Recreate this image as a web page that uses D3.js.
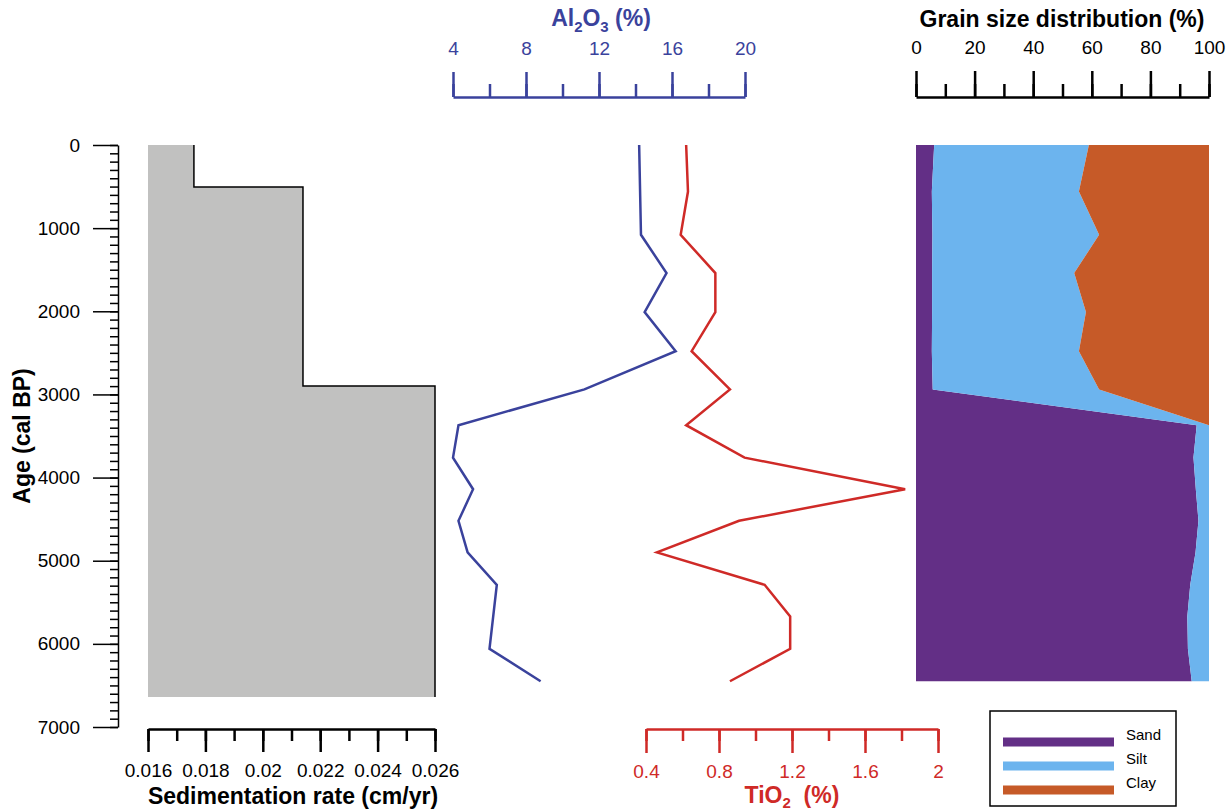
<!DOCTYPE html>
<html>
<head>
<meta charset="utf-8">
<script src="https://cdn.jsdelivr.net/npm/d3@7"></script>
<style>
  body { margin: 0; background: #fff; }
  svg text { font-family: "Liberation Sans", Arial, sans-serif; }
</style>
</head>
<body>
<div id="chart"></div>
<script>
// ages (cal BP) of the samples
const ages = [0, 560, 1080, 1540, 2010, 2480, 2940, 3370, 3760, 4140, 4520, 4900, 5290, 5670, 6060, 6450];
const alAges = [0, 1080, 1540, 2010, 2480, 2940, 3370, 3760, 4140, 4520, 4900, 5290, 6060, 6450];
const al2o3 = [14.2, 14.3, 15.7, 14.5, 16.2, 11.2, 4.3, 4.0, 5.1, 4.3, 4.8, 6.4, 6.0, 8.8];
const tio2 = [0.62, 0.63, 0.59, 0.78, 0.78, 0.65, 0.86, 0.62, 0.94, 1.82, 0.91, 0.46, 1.05, 1.19, 1.19, 0.86];
const sand = [6.2, 5.4, 5.6, 5.5, 5.5, 5.4, 5.7, 95.8, 94.7, 95.5, 96.4, 95.4, 93.6, 92.6, 92.8, 94.1];
const silt = [52.8, 50.2, 56.9, 48.5, 52.5, 50.2, 56.8, 4.2, 5.3, 4.5, 3.6, 4.6, 6.4, 7.4, 7.2, 5.9];
const clay = [41.0, 44.4, 37.5, 46.0, 42.0, 44.4, 37.5, 0, 0, 0, 0, 0, 0, 0, 0, 0];

// sedimentation rate, constant between breakpoints
const sedAges = [0, 505, 2900, 6640];
const sedRates = [0.0176, 0.0214, 0.026];

const ageTicks = [0, 1000, 2000, 3000, 4000, 5000, 6000, 7000];
const sedTicks = [0.016, 0.018, 0.02, 0.022, 0.024, 0.026];
const alTicks = [4, 8, 12, 16, 20];
const tiTicks = [0.4, 0.8, 1.2, 1.6, 2];
const grainTicks = [0, 20, 40, 60, 80, 100];
const grainKeys = ["Sand", "Silt", "Clay"];

const blue = "#3a429c", red = "#cf2a27";
const grainColor = { Sand: "#632f86", Silt: "#6cb4ee", Clay: "#c65a28" };
const titleSize = 23;

const svg = d3.select("#chart").append("svg")
  .attr("width", 1231)
  .attr("height", 811);

const y = d3.scaleLinear().domain([0, 7000]).range([145, 727]);
const xSed = d3.scaleLinear().domain([0.016, 0.026]).range([148, 435]);
const xAl = d3.scaleLinear().domain([4, 20]).range([453, 745]);
const xTi = d3.scaleLinear().domain([0.4, 2]).range([646, 938]);
const xGrain = d3.scaleLinear().domain([0, 100]).range([916, 1209]);

// helper: major + minor ticks on one axis
function drawAxis(axisFn, scale, pos, major, minor, opts) {
  const g = svg.append("g").attr("transform", pos);
  g.append("g")
    .call(axisFn(scale).tickValues(minor).tickSize(opts.minor).tickFormat(""))
    .call(a => a.select(".domain").remove());
  g.append("g")
    .call(axisFn(scale).tickValues(major).tickSize(opts.major).tickSizeOuter(0)
      .tickPadding(opts.pad).tickFormat(opts.fmt || (d => d)));
  g.selectAll("line, path").attr("stroke", opts.color).attr("stroke-width", opts.width);
  g.selectAll("text").attr("fill", opts.color).attr("font-size", 19)
    .attr("font-family", "Liberation Sans, Arial, sans-serif");
  return g;
}

// age axis
drawAxis(d3.axisLeft, y, "translate(118,0)", ageTicks, d3.range(0, 7001, 100),
  { major: 25, minor: 8, pad: 13, color: "#000", width: 1.5 });

svg.append("text")
  .attr("transform", "translate(30,436) rotate(-90)")
  .attr("text-anchor", "middle")
  .attr("font-size", titleSize).attr("font-weight", "bold")
  .text("Age (cal BP)");

// sedimentation rate
const sedPts = [];
sedRates.forEach((r, i) => {
  sedPts.push({ age: sedAges[i], rate: r });
  sedPts.push({ age: sedAges[i + 1], rate: r });
});

svg.append("path")
  .datum(sedPts)
  .attr("fill", "#c1c1c0")
  .attr("d", d3.area().x0(xSed(0.016)).x1(d => xSed(d.rate)).y(d => y(d.age)));

svg.append("path")
  .datum(sedPts)
  .attr("fill", "none")
  .attr("stroke", "#000")
  .attr("stroke-width", 1.5)
  .attr("d", d3.line().x(d => xSed(d.rate)).y(d => y(d.age)));

drawAxis(d3.axisBottom, xSed, "translate(0,729)", sedTicks, d3.range(0.016, 0.0261, 0.001),
  { major: 23, minor: 12, pad: 12, color: "#000", width: 2.5 });

svg.append("text")
  .attr("x", 293).attr("y", 804)
  .attr("text-anchor", "middle")
  .attr("font-size", titleSize).attr("font-weight", "bold")
  .text("Sedimentation rate (cm/yr)");

// Al2O3
svg.append("path")
  .datum(al2o3)
  .attr("fill", "none")
  .attr("stroke", blue)
  .attr("stroke-width", 2.5)
  .attr("d", d3.line().x(d => xAl(d)).y((d, i) => y(alAges[i])));

drawAxis(d3.axisTop, xAl, "translate(0,97)", alTicks, d3.range(4, 20.1, 2),
  { major: 25, minor: 13, pad: 17, color: blue, width: 2.5 });

const alTitle = svg.append("text")
  .attr("x", 601).attr("y", 26)
  .attr("text-anchor", "middle")
  .attr("font-size", titleSize).attr("font-weight", "bold")
  .attr("fill", blue);
alTitle.append("tspan").text("Al");
alTitle.append("tspan").attr("font-size", 15).attr("dy", 6).text("2");
alTitle.append("tspan").attr("dy", -6).text("O");
alTitle.append("tspan").attr("font-size", 15).attr("dy", 6).text("3");
alTitle.append("tspan").attr("dy", -6).text(" (%)");

// TiO2
svg.append("path")
  .datum(tio2)
  .attr("fill", "none")
  .attr("stroke", red)
  .attr("stroke-width", 2.5)
  .attr("d", d3.line().x(d => xTi(d)).y((d, i) => y(ages[i])));

drawAxis(d3.axisBottom, xTi, "translate(0,729)", tiTicks, d3.range(0.4, 2.01, 0.2),
  { major: 24, minor: 12, pad: 12, color: red, width: 2.5 });

const tiTitle = svg.append("text")
  .attr("x", 792).attr("y", 803)
  .attr("text-anchor", "middle")
  .attr("font-size", titleSize).attr("font-weight", "bold")
  .attr("fill", red);
tiTitle.append("tspan").text("TiO");
tiTitle.append("tspan").attr("font-size", 15).attr("dy", 5).text("2");
tiTitle.append("tspan").attr("dy", -5).text("\u00a0 (%)");

// grain size, stacked
const grainRows = ages.map((a, i) => ({ age: a, Sand: sand[i], Silt: silt[i], Clay: clay[i] }));
const stacked = d3.stack().keys(grainKeys)(grainRows);

svg.selectAll(".grain")
  .data(stacked)
  .join("path")
  .attr("class", "grain")
  .attr("fill", d => grainColor[d.key])
  .attr("d", d3.area()
    .y(d => y(d.data.age))
    .x0(d => xGrain(d[0]))
    .x1(d => xGrain(d[1])));

drawAxis(d3.axisTop, xGrain, "translate(0,97)", grainTicks, d3.range(0, 101, 10),
  { major: 26, minor: 13, pad: 17, color: "#000", width: 2.5 });

svg.append("text")
  .attr("x", 1062).attr("y", 27)
  .attr("text-anchor", "middle")
  .attr("font-size", titleSize).attr("font-weight", "bold")
  .text("Grain size distribution (%)");

// legend
const legend = svg.append("g");
legend.append("rect")
  .attr("x", 990).attr("y", 711)
  .attr("width", 186).attr("height", 95)
  .attr("fill", "#fff").attr("stroke", "#000").attr("stroke-width", 1.5);

const item = legend.selectAll(".item")
  .data(grainKeys)
  .join("g")
  .attr("transform", (d, i) => `translate(0,${742 + i * 24})`);

item.append("rect")
  .attr("x", 1003).attr("y", -4.5)
  .attr("width", 111).attr("height", 9)
  .attr("fill", d => grainColor[d]);

item.append("text")
  .attr("x", 1126).attr("y", -2)
  .attr("font-size", 15)
  .text(d => d);
</script>
</body>
</html>
